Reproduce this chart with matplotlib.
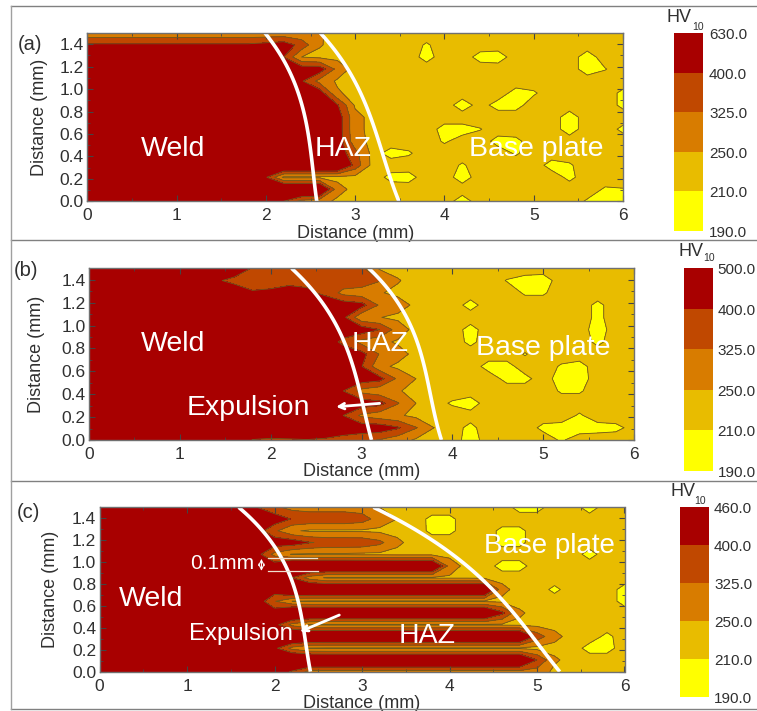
import numpy as np
import matplotlib
matplotlib.use("Agg")
from matplotlib import pyplot as plt
from matplotlib.lines import Line2D

plt.rcParams['font.family'] = ['Liberation Sans', 'DejaVu Sans']

W, H = 757, 711

##---------- datos: dureza HV10, fila y=1.5 primero, columnas x=0,0.2,...,6.0
x_grid = np.arange(31) * 0.2
y_grid = np.arange(15) * 1.5 / 14

hv_a = [
    [270,270,270,270,270, 270,270,270,270,270, 270,270,268,255,235, 230,230,230,230,230, 230,230,230,230,230, 230,230,230,230,230, 230],
    [415,415,415,415,415, 415,415,415,415,415, 430,450,370,255,230, 230,230,230,230,205, 230,230,230,230,230, 230,230,230,230,230, 230],
    [450,450,450,450,450, 450,450,450,450,450, 450,400,250,235,230, 230,230,230,230,195, 230,230,195,190,230, 230,230,230,190,230, 230],
    [450,450,450,450,450, 450,450,450,450,450, 450,450,450,450,300, 220,230,230,230,230, 230,230,230,230,230, 230,230,230,190,208, 230],
    [450,450,450,450,450, 450,450,450,450,450, 450,450,410,300,240, 230,230,230,230,230, 230,230,230,230,230, 230,230,230,230,230, 230],
    [450,450,450,450,450, 450,450,450,450,450, 450,450,450,450,260, 225,230,230,230,230, 230,230,230,230,195, 205,230,230,230,230, 200],
    [450,450,450,450,450, 450,450,450,450,450, 450,450,450,450,410, 240,230,230,230,230, 230,190,225,195,195, 230,230,230,230,230, 200],
    [450,450,450,450,450, 450,450,450,450,450, 450,450,450,450,450, 270,230,230,230,230, 230,230,230,230,230, 230,230,190,230,230, 230],
    [450,450,450,450,450, 450,450,450,450,450, 450,450,450,450,450, 270,230,230,230,230, 195,195,208,230,230, 230,230,190,230,230, 200],
    [450,450,450,450,450, 450,450,450,450,450, 450,450,450,450,450, 280,230,230,230,230, 205,225,230,195,200, 230,230,230,230,230, 230],
    [450,450,450,450,450, 450,450,450,450,450, 450,450,450,450,450, 350,225,195,205,230, 230,230,230,230,205, 230,230,230,230,230, 230],
    [450,450,450,450,450, 450,450,450,450,560, 560,560,560,560,560, 370,225,230,230,230, 230,205,230,230,230, 230,195,205,230,230, 230],
    [450,450,450,450,450, 450,450,450,450,450, 410,235,235,235,230, 230,230,198,195,230, 230,190,230,230,230, 230,230,200,230,230, 230],
    [450,450,450,450,450, 450,450,450,450,560, 560,560,560,560,280, 225,230,230,230,230, 230,230,230,230,230, 230,230,230,230,205, 208],
    [450,450,450,450,450, 450,450,450,450,450, 450,400,300,280,235, 230,230,230,230,230, 230,190,230,230,230, 230,230,230,205,195, 195],
]

hv_b = [
    [450,450,450,450,450, 450,450,450,450,395, 380,380,380,380,370, 340,240,230,230,230, 230,230,230,230,230, 230,230,230,230,230, 230],
    [450,450,450,450,450, 450,450,410,380,380, 380,380,380,380,380, 380,330,255,225,230, 230,230,230,208,195, 190,230,230,230,230, 230],
    [450,450,450,450,450, 450,450,450,450,405, 410,430,415,385,300, 280,255,235,230,230, 230,230,230,230,205, 205,230,230,230,230, 230],
    [450,450,450,450,450, 450,450,450,450,450, 450,450,450,450,450, 430,315,280,235,230, 230,195,230,230,230, 230,230,230,200,230, 230],
    [450,450,450,450,450, 450,450,450,450,450, 450,450,450,450,420, 265,252,235,230,230, 230,230,230,230,230, 230,230,230,200,230, 230],
    [450,450,450,450,450, 450,450,450,450,450, 450,450,450,450,450, 450,400,290,225,230, 230,195,230,230,230, 230,230,230,190,230, 230],
    [450,450,450,450,450, 450,450,450,450,450, 450,450,450,450,380, 300,270,240,230,230, 230,200,230,230,230, 230,230,230,200,230, 230],
    [450,450,450,450,450, 450,450,450,450,450, 450,450,450,450,450, 430,320,280,228,230, 230,230,230,230,207, 230,230,230,230,230, 230],
    [450,450,450,450,450, 450,450,450,450,450, 450,450,450,450,450, 405,270,235,230,230, 230,230,195,195,230, 230,205,195,230,230, 230],
    [450,450,450,450,450, 450,450,450,450,450, 450,450,450,450,450, 450,430,310,250,225, 230,230,230,198,198, 230,190,190,230,230, 230],
    [450,450,450,450,450, 450,450,450,450,450, 450,450,450,450,400, 300,270,255,232,230, 230,230,230,230,230, 230,205,205,230,230, 230],
    [450,450,450,450,450, 450,450,450,450,450, 450,450,450,450,450, 450,430,330,250,225, 205,190,230,230,230, 230,230,230,230,230, 230],
    [450,450,450,450,450, 450,450,450,450,450, 450,450,450,450,400, 310,280,260,232,230, 230,225,230,230,230, 230,230,205,230,230, 230],
    [450,450,450,450,450, 450,450,450,450,450, 450,450,450,450,450, 450,450,410,330,250, 225,200,230,230,230, 200,195,190,195,200, 222],
    [450,450,450,450,450, 450,450,450,450,398, 392,395,398,392,370, 345,320,280,240,230, 230,190,230,230,230, 230,205,230,230,230, 230],
]

hv_c = [
    [450,450,450,450,450, 450,450,450,450,400, 340,300,290,290,290, 285,250,232,230,230, 230,230,230,230,195, 195,230,230,190,230, 230],
    [450,450,450,450,450, 450,450,450,450,450, 450,395,380,380,380, 360,290,250,228,200, 200,230,230,230,230, 230,230,230,230,230, 230],
    [450,450,450,450,450, 450,450,450,450,440, 340,260,240,240,240, 240,235,230,230,200, 200,230,230,200,200, 230,230,230,230,230, 230],
    [450,450,450,450,450, 450,450,450,450,450, 450,450,405,385,385, 380,345,265,225,230, 230,230,230,200,200, 230,230,230,230,230, 230],
    [450,450,450,450,450, 450,450,450,450,430, 300,245,240,240,240, 235,235,230,230,230, 230,230,230,228,228, 230,230,230,195,230, 230],
    [450,450,450,450,450, 450,450,450,450,450, 450,560,560,560,560, 560,560,560,560,560, 290,225,230,195,195, 230,230,230,230,230, 230],
    [450,450,450,450,450, 450,450,450,450,450, 450,400,290,240,240, 240,240,240,240,240, 240,240,235,230,230, 230,230,230,230,230, 230],
    [450,450,450,450,450, 450,450,450,450,450, 450,560,560,560,560, 560,560,560,560,560, 560,560,560,270,225, 230,200,230,230,230, 195],
    [450,450,450,450,450, 450,450,450,450,450, 330,250,240,240,240, 240,240,240,240,240, 240,240,240,235,230, 230,230,230,230,230, 195],
    [450,450,450,450,450, 450,450,450,450,450, 450,560,560,560,560, 560,560,560,560,560, 560,560,560,420,260, 228,230,230,230,230, 230],
    [450,450,450,450,450, 450,450,450,450,450, 430,300,245,240,240, 240,240,240,240,240, 240,240,240,240,235, 230,230,230,230,230, 230],
    [450,450,450,450,450, 450,450,450,450,450, 450,560,560,560,560, 560,560,560,560,560, 560,560,560,560,560, 370,270,225,230,200, 230],
    [450,450,450,450,450, 450,450,450,450,450, 420,300,245,240,240, 240,240,240,240,240, 240,240,240,240,240, 230,230,230,195,195, 230],
    [450,450,450,450,450, 450,450,450,450,450, 450,560,560,560,560, 560,560,560,560,560, 560,560,560,560,560, 400,260,228,230,230, 230],
    [450,450,450,450,450, 450,450,450,450,450, 450,390,300,300,300, 300,300,300,300,300, 300,300,300,300,300, 290,235,230,230,230, 230],
]

cbar_labels_a = ["630.0", "400.0", "325.0", "250.0", "210.0", "190.0"]
cbar_labels_b = ["500.0", "400.0", "325.0", "250.0", "210.0", "190.0"]
cbar_labels_c = ["460.0", "400.0", "325.0", "250.0", "210.0", "190.0"]
colores = ["#FFFF00", "#E8BC00", "#D87C00", "#C04800", "#A80000"]
niveles = [190, 210, 250, 325, 400, 630]

## curvas blancas (y, x)
curva_a1 = ([1.5, 0.87, 0.46, 0.0], [1.99, 2.40, 2.50, 2.57])
curva_a2 = ([1.5, 1.0, 0.52, 0.0], [2.61, 3.04, 3.27, 3.49])
curva_b1 = ([1.5, 0.96, 0.58, 0.0], [2.23, 2.75, 2.93, 3.11])
curva_b2 = ([1.5, 1.05, 0.58, 0.0], [3.08, 3.51, 3.71, 3.88])
curva_c1 = ([1.5, 1.065, 0.64, 0.0], [1.59, 2.06, 2.27, 2.41])
curva_c2 = ([1.5, 0.91, 0.43, 0.0], [3.13, 4.28, 4.84, 5.26])

gris = "#303030"
fig = plt.figure(figsize=(W / 100, H / 100), dpi=100)


def ejes(x0, y0, x1, y1):
    return fig.add_axes([x0 / W, 1 - y1 / H, (x1 - x0) / W, (y1 - y0) / H])


def texto_px(x, y, s, size, ha='left'):
    fig.text(x / W, 1 - y / H, s, fontsize=size, color=gris, ha=ha, va='center')


def panel(caja, hv, curvas, pad_y):
    ax = ejes(*caja)
    z = np.flipud(np.array(hv, dtype=float))
    ax.contourf(x_grid, y_grid, z, levels=niveles, colors=colores)
    ax.contour(x_grid, y_grid, z, levels=niveles[1:-1], colors="#6e5c1c", linewidths=0.6)
    for ys, xs in curvas:
        p = np.polyfit(ys, xs, 3)
        yy = np.linspace(0, 1.5, 60)
        ax.plot(np.polyval(p, yy), yy, color="white", lw=2.6, solid_capstyle='butt')
    ax.set_xlim(0, 6)
    ax.set_ylim(0, 1.5)
    ax.set_xticks(range(7))
    ax.set_yticks(np.arange(8) * 0.2)
    ax.set_xticks(np.arange(13) * 0.5, minor=True)
    ax.set_yticks(np.arange(16) * 0.1, minor=True)
    ax.tick_params(which='major', direction='in', top=True, right=True, length=4, width=0.8,
                   labelsize=12.5, labelcolor=gris, color="#444444", pad=5)
    ax.tick_params(axis='y', which='major', pad=2.5)
    ax.tick_params(which='minor', direction='in', top=True, right=True, length=2, width=0.6, color="#444444")
    ax.set_xlabel("Distance (mm)", fontsize=13, color=gris, labelpad=1)
    ax.set_ylabel("Distance (mm)", fontsize=13, color=gris, labelpad=pad_y)
    for s in ax.spines.values():
        s.set_color("#707070")
        s.set_linewidth(1)
    return ax


def barra(caja, etiquetas, x_txt):
    cax = ejes(*caja)
    for i, c in enumerate(colores[::-1]):
        cax.bar(0, 1, bottom=4 - i, width=1, color=c)
    cax.set_xlim(-0.5, 0.5)
    cax.set_ylim(0, 5)
    cax.axis('off')
    y0, y1 = caja[1], caja[3]
    for i, s in enumerate(etiquetas):
        texto_px(x_txt, y0 + 2 + (y1 - y0) * i / 5, s, 11)


def rotulos(ax, items):
    for x, y, s, size in items:
        ax.text(x, y, s, color="white", fontsize=size, ha='center', va='center')


def flecha(ax, ini, fin, estilo='->', lw=2):
    ax.annotate("", xy=fin, xytext=ini, arrowprops=dict(arrowstyle=estilo, color="white", lw=lw,
                                                        shrinkA=0, shrinkB=0))


## panel (a)
ax_a = panel((87.3, 33, 623, 201.3), hv_a, [curva_a1, curva_a2], 8)
rotulos(ax_a, [(0.965, 0.47, "Weld", 20.5), (2.87, 0.47, "HAZ", 20.5), (5.03, 0.47, "Base plate", 20.5)])
barra((674.3, 33, 703.3, 231), cbar_labels_a, 709)

## panel (b)
ax_b = panel((89, 268.3, 634, 440), hv_b, [curva_b1, curva_b2], 12)
rotulos(ax_b, [(0.92, 0.84, "Weld", 20.5), (3.2, 0.84, "HAZ", 20.5), (5.0, 0.80, "Base plate", 20.5),
               (1.75, 0.28, "Expulsion", 20.5)])
flecha(ax_b, (3.2, 0.32), (2.72, 0.29))
barra((683.7, 268, 713, 471), cbar_labels_b, 717.5)

## panel (c)
ax_c = panel((99.6, 507.3, 624.5, 671.7), hv_c, [curva_c1, curva_c2], 9.5)
rotulos(ax_c, [(0.59, 0.66, "Weld", 20.5), (3.74, 0.325, "HAZ", 20.5), (5.14, 1.15, "Base plate", 20),
               (1.62, 0.34, "Expulsion", 17.3), (1.4, 0.985, "0.1mm", 15)])
flecha(ax_c, (2.74, 0.517), (2.29, 0.365))
flecha(ax_c, (1.85, 1.03), (1.85, 0.92), estilo='<->', lw=0.8)
ax_c.plot([1.92, 2.48], [1.035, 1.035], color="#f0e0d0", lw=0.9)
ax_c.plot([1.92, 2.50], [0.919, 0.919], color="#f0e0d0", lw=0.9)
barra((680, 506.7, 708.7, 697.3), cbar_labels_c, 714)

## letras y HV10
texto_px(18, 44, "(a)", 14.5)
texto_px(14, 270, "(b)", 14.5)
texto_px(17, 512, "(c)", 14.5)
for x, y, xs, ys in [(667, 17, 692, 27), (678, 251, 703, 258), (670, 492, 694, 501)]:
    texto_px(x, y, "HV", 13)
    texto_px(xs, ys, "10", 7.5)

## marco de la figura
for y in [6, 240, 480.5, 709]:
    fig.add_artist(Line2D([11 / W, 1], [1 - y / H, 1 - y / H], color="#808080", lw=1))
fig.add_artist(Line2D([11 / W, 11 / W], [1 - 6 / H, 1 - 709 / H], color="#a0a0a0", lw=1))

plt.savefig("out.png", dpi=100)
